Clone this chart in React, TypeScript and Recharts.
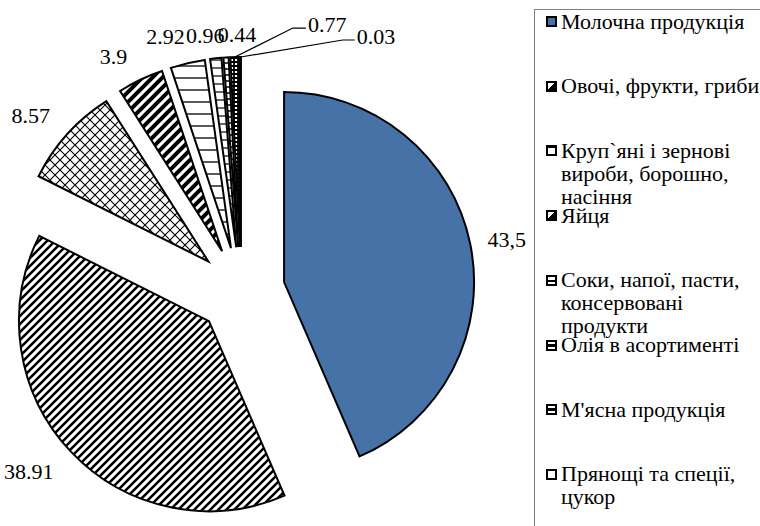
import React from 'react';
import { PieChart, Pie, Cell } from 'recharts';

const categories = [
  'Молочна продукція',
  'Овочі, фрукти, гриби',
  'Круп`яні і зернові вироби, борошно, насіння',
  'Яйця',
  'Соки, напої, пасти, консервовані продукти',
  'Олія в асортименті',
  "М'ясна продукція",
  'Прянощі та спеції, цукор',
  'Інше',
];
const values = [43.5, 38.91, 8.57, 3.9, 2.92, 0.96, 0.44, 0.77, 0.03];
const valueLabels = ['43,5', '38.91', '8.57', '3.9', '2.92', '0.96', '0.44', '0.77', '0.03'];

const fills = [
  '#4672a8',
  'url(#pStripe)',
  'url(#pCross)',
  'url(#pWide)',
  'url(#pHoriz)',
  'url(#pHoriz2)',
  'url(#pLadder)',
  'url(#pDense)',
  '#ffffff',
];

// layout / style constants
const CX = 241;
const CY = 291;
const R = 190;
const EXPLODE = 44;
const FONT = '"Liberation Serif"';
const FS = 22;
const labelNudge: [number, number][] = [
  [4, 1], [-14, 4], [-12, -3], [-15, -2], [-14.5, -4.6], [-7, 0], [13, 0], [0, 0], [0, 0],
];
const leaders: Record<number, { ex: number; ey: number; len: number }> = {
  7: { ex: 58, ey: -29, len: 13 },
  8: { ex: 102, ey: -17, len: 12 },
};
const LEGEND_VISIBLE = 8;

const data = categories.map((name, i) => ({ name, value: values[i] }));
const total = values.reduce((a, b) => a + b, 0);
const midCW: number[] = [];
{
  let acc = 0;
  values.forEach((v) => {
    const a = (v / total) * 360;
    midCW.push(acc + a / 2);
    acc += a;
  });
}

const textWidth = (s: string) =>
  s.split('').reduce((w, ch) => w + (ch === '.' || ch === ',' ? 0.25 : 0.5), 0) * FS;

const makeLabel = (k: number) => (props: any) => {
  if (props.index !== k) return null;
  const { cx, cy, midAngle } = props;
  const rad = (-midAngle * Math.PI) / 180;
  const ux = Math.cos(rad);
  const uy = Math.sin(rad);
  const text = valueLabels[k];
  const ld = leaders[k];
  if (ld) {
    const tx = cx + R * ux;
    const ty = cy + R * uy;
    const ex = tx + ld.ex;
    const ey = ty + ld.ey;
    const endX = ex + ld.len;
    return (
      <g>
        <polyline points={`${tx},${ty} ${ex},${ey} ${endX},${ey}`} fill="none" stroke="#000" strokeWidth={1.2} />
        <text x={endX + 2} y={ey - 4} textAnchor="start" dominantBaseline="central" fontFamily={FONT} fontSize={FS} fill="#000">
          {text}
        </text>
      </g>
    );
  }
  const w = textWidth(text);
  const px = cx + (R + 14) * ux + (w / 2) * ux + labelNudge[k][0];
  const py = cy + (R + 14) * uy + 9 * uy + labelNudge[k][1];
  return (
    <text x={px} y={py} textAnchor="middle" dominantBaseline="central" fontFamily={FONT} fontSize={FS} fill="#000">
      {text}
    </text>
  );
};

const markerStyles: React.CSSProperties[] = [
  { background: '#4672a8' },
  { background: 'linear-gradient(135deg, #fff 48%, #000 48%)' },
  { background: '#fff', borderTopWidth: 3 },
  { background: 'linear-gradient(135deg, #fff 48%, #000 48%)' },
  { background: 'linear-gradient(to bottom, #fff 50%, #000 50%, #000 75%, #fff 75%)' },
  { background: 'linear-gradient(to bottom, #fff 35%, #000 35%, #000 65%, #fff 65%)' },
  { background: 'linear-gradient(to bottom, #fff 35%, #000 35%, #000 65%, #fff 65%)' },
  { background: '#fff' },
  { background: '#fff' },
];

const SLOT = 64.7;
const LINE_H = 23;

function LegendBox() {
  return (
    <div
      style={{
        position: 'absolute',
        left: 534,
        top: 9,
        width: 226,
        height: 520,
        borderLeft: '1px solid #7f7f7f',
        borderTop: '1px solid #7f7f7f',
        boxSizing: 'border-box',
        overflow: 'hidden',
        fontFamily: FONT,
        fontSize: FS,
        color: '#000',
      }}
    >
      {categories.slice(0, LEGEND_VISIBLE).map((c, i) => (
        <div
          key={i}
          style={{
            position: 'absolute',
            left: 26,
            top: 12 - LINE_H / 2 - 1 + i * SLOT,
            width: 200,
            lineHeight: `${LINE_H}px`,
            whiteSpace: 'normal',
          }}
        >
          <span
            style={{
              position: 'absolute',
              left: -15,
              top: 6.5,
              width: 11,
              height: 11,
              boxSizing: 'border-box',
              border: '2px solid #000',
              ...markerStyles[i],
            }}
          />
          {c}
        </div>
      ))}
    </div>
  );
}

export default function App() {
  return (
    <div style={{ position: 'absolute', left: 0, top: 0, width: 760, height: 526, background: '#fff', fontFamily: FONT }}>
      <PieChart width={760} height={526} margin={{ top: 0, right: 0, bottom: 0, left: 0 }}>
        <defs>
          <pattern id="pStripe" width={8} height={8} patternUnits="userSpaceOnUse">
            <rect width={8} height={8} fill="#fff" />
            <path d="M-2,2 L2,-2 M0,8 L8,0 M6,10 L10,6" stroke="#000" strokeWidth={2.6} />
          </pattern>
          <pattern id="pCross" width={10} height={10} patternUnits="userSpaceOnUse">
            <rect width={10} height={10} fill="#fff" />
            <path d="M0,0 L10,10 M10,0 L0,10" stroke="#000" strokeWidth={1.1} />
          </pattern>
          <pattern id="pWide" width={10} height={10} patternUnits="userSpaceOnUse">
            <rect width={10} height={10} fill="#fff" />
            <path d="M-3,3 L3,-3 M0,10 L10,0 M7,13 L13,7" stroke="#000" strokeWidth={4} />
          </pattern>
          <pattern id="pHoriz" width={12} height={12} patternUnits="userSpaceOnUse">
            <rect width={12} height={12} fill="#fff" />
            <path d="M0,6 L12,6" stroke="#000" strokeWidth={1.3} />
          </pattern>
          <pattern id="pHoriz2" width={8} height={8} patternUnits="userSpaceOnUse">
            <rect width={8} height={8} fill="#fff" />
            <path d="M0,4 L8,4" stroke="#000" strokeWidth={1.2} />
          </pattern>
          <pattern id="pLadder" width={6} height={6} patternUnits="userSpaceOnUse">
            <rect width={6} height={6} fill="#fff" />
            <path d="M0,3 L6,3" stroke="#000" strokeWidth={1.5} />
          </pattern>
          <pattern id="pDense" width={4} height={4} patternUnits="userSpaceOnUse">
            <rect width={4} height={4} fill="#fff" />
            <path d="M0,2 L4,2 M2,0 L2,4" stroke="#000" strokeWidth={1.8} />
          </pattern>
        </defs>
        {values.map((_, k) => {
          const mid = (midCW[k] * Math.PI) / 180;
          const pcx = CX + EXPLODE * Math.sin(mid);
          const pcy = CY - EXPLODE * Math.cos(mid);
          return (
            <Pie
              key={k}
              data={data}
              dataKey="value"
              nameKey="name"
              cx={pcx}
              cy={pcy}
              outerRadius={R}
              innerRadius={0}
              startAngle={90}
              endAngle={-270}
              isAnimationActive={false}
              label={makeLabel(k)}
              labelLine={false}
              legendType="none"
            >
              {data.map((d, i) => (
                <Cell
                  key={i}
                  fill={i === k ? fills[i] : 'none'}
                  stroke={i === k ? '#000' : 'none'}
                  strokeWidth={2}
                />
              ))}
            </Pie>
          );
        })}
      </PieChart>
      <LegendBox />
    </div>
  );
}
